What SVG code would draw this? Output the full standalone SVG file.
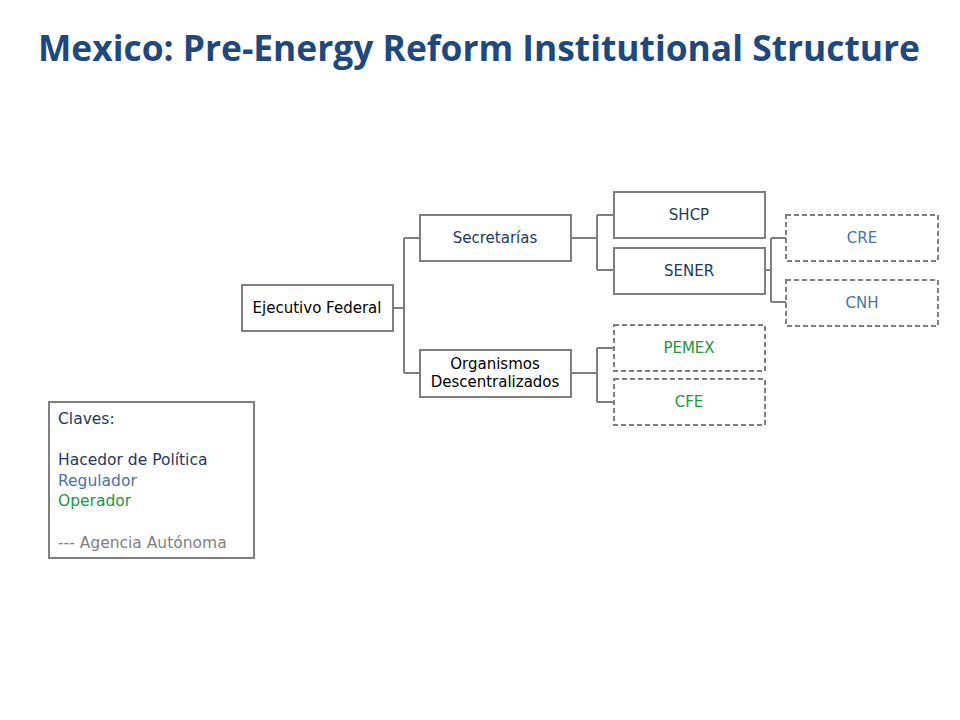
<svg xmlns="http://www.w3.org/2000/svg" width="960" height="720" viewBox="0 0 960 720">
<style>
.box{fill:#fff;stroke:#7f7f7f;stroke-width:2}
.dash{fill:#fff;stroke:#7f7f7f;stroke-width:2;stroke-dasharray:5 3}
.conn{fill:none;stroke:#7f7f7f;stroke-width:2}
.t{font-family:"DejaVu Sans",Verdana,sans-serif;font-size:15px;text-anchor:middle}
.lg{font-family:"DejaVu Sans",Verdana,sans-serif;font-size:15.5px}
.black{fill:#000}
.navy{fill:#1f3864}
.blue{fill:#4a74a8}
.green{fill:#23963c}
.gray{fill:#7f7f7f}
</style>
<rect width="960" height="720" fill="#fff"/>
<text x="479" y="61" font-family="'Open Sans','Noto Sans',sans-serif" font-weight="bold" font-size="36" fill="#1f497d" text-anchor="middle" textLength="882" lengthAdjust="spacingAndGlyphs">Mexico: Pre-Energy Reform Institutional Structure</text>
<g id="connectors">
<path class="conn" d="M393 308H404M404 238V373M404 238H420M404 373H420"/>
<path class="conn" d="M571 238H597M597 215V270M597 215H614M597 270H614"/>
<path class="conn" d="M571 373H597M597 348V402M597 348H614M597 402H614"/>
<path class="conn" d="M765 270H771M771 238V302M771 238H786M771 302H786"/>
</g>
<g id="ejecutivo"><rect class="box" x="242" y="285" width="151" height="46"/><text class="t black" x="317" y="313">Ejecutivo Federal</text></g>
<g id="secretarias"><rect class="box" x="420" y="215" width="151" height="46"/><text class="t navy" x="495" y="243">Secretarías</text></g>
<g id="organismos"><rect class="box" x="420" y="350" width="151" height="47"/><text class="t black" x="495" y="369">Organismos</text><text class="t black" x="495" y="387">Descentralizados</text></g>
<g id="shcp"><rect class="box" x="614" y="192" width="151" height="46"/><text class="t navy" x="689" y="220">SHCP</text></g>
<g id="sener"><rect class="box" x="614" y="248" width="151" height="46"/><text class="t navy" x="689" y="276">SENER</text></g>
<g id="cre"><rect class="dash" x="786" y="215" width="152" height="46"/><text class="t blue" x="862" y="243">CRE</text></g>
<g id="cnh"><rect class="dash" x="786" y="280" width="152" height="46"/><text class="t blue" x="862" y="308">CNH</text></g>
<g id="pemex"><rect class="dash" x="614" y="325" width="151" height="46"/><text class="t green" x="689" y="353">PEMEX</text></g>
<g id="cfe"><rect class="dash" x="614" y="379" width="151" height="46"/><text class="t green" x="689" y="407">CFE</text></g>
<g id="legend"><rect class="box" x="49" y="402" width="205" height="156"/>
<text class="lg navy" x="58" y="424">Claves:</text>
<text class="lg navy" x="58" y="465">Hacedor de Política</text>
<text class="lg blue" x="58" y="486">Regulador</text>
<text class="lg green" x="58" y="506">Operador</text>
<text class="lg gray" x="58" y="548">--- Agencia Autónoma</text>
</g>
</svg>
